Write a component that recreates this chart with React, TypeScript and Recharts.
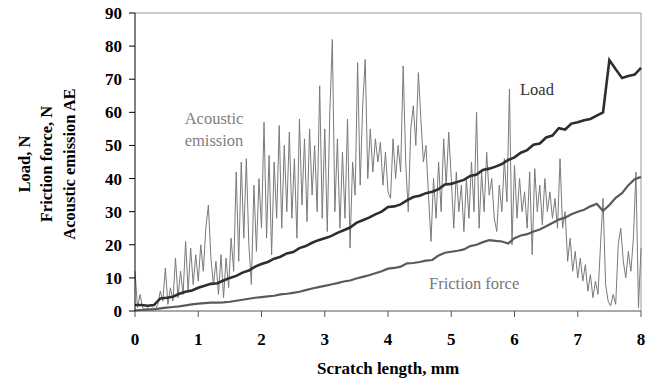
import { LineChart, Line, XAxis, YAxis, ReferenceLine } from "recharts";

// scratch length (mm) grid for load / friction force, every 0.1 mm
const loadValues = [
  1.8, 1.8, 1.6, 1.8, 3.8, 4.0, 4.3, 5.2, 5.8, 6.2,
  7.0, 7.6, 8.2, 8.4, 9.2, 10.0, 10.6, 11.6, 12.2, 13.4,
  14.2, 14.8, 15.8, 16.4, 17.4, 17.8, 19.0, 19.6, 20.6, 21.4,
  22.0, 22.6, 23.6, 24.4, 25.2, 26.6, 27.4, 28.2, 29.2, 30.0,
  31.4, 31.6, 32.2, 33.4, 34.4, 34.8, 35.6, 36.0, 36.8, 38.2,
  38.4, 39.0, 39.6, 40.8, 41.2, 42.6, 43.0, 43.6, 44.4, 45.6,
  46.4, 47.8, 48.6, 50.2, 50.6, 52.4, 53.0, 55.2, 54.8, 56.6,
  57.0, 57.6, 58.0, 59.0, 60.0, 75.8, 73.0, 70.4, 71.0, 71.4,
  73.4,
];

const frictionValues = [
  0.2, 0.3, 0.4, 0.5, 0.8, 1.0, 1.2, 1.4, 1.7, 2.0,
  2.2, 2.4, 2.5, 2.5, 2.6, 2.8, 3.1, 3.4, 3.7, 4.0,
  4.2, 4.4, 4.6, 5.0, 5.2, 5.5, 5.8, 6.3, 6.8, 7.2,
  7.6, 8.0, 8.4, 8.9, 9.2, 9.8, 10.3, 10.8, 11.4, 12.0,
  12.8, 13.0, 13.4, 14.4, 14.5, 14.8, 15.2, 15.4, 16.8, 17.6,
  17.9, 18.2, 18.6, 19.6, 20.0, 20.8, 21.4, 21.2, 21.0, 20.4,
  22.0, 22.8, 23.2, 24.0, 24.6, 25.6, 26.6, 27.6, 28.2, 29.2,
  30.0, 30.6, 31.6, 32.4, 30.2, 32.0, 34.2, 35.6, 38.0, 39.8,
  40.5,
];

// acoustic emission, every 0.04 mm
const aeValues = [
  12, 1, 5, 1, 0.5, 1, 0.5, 1, 0.5, 2,
  6, 3, 13, 2, 7, 3, 16, 4, 12, 5,
  21, 6, 19, 8, 17, 9, 20, 12, 25, 32,
  16, 8, 15, 5, 17, 4, 16, 7, 22, 12,
  42, 15, 45, 22, 46, 20, 8, 38, 18, 40,
  25, 57, 22, 47, 17, 45, 28, 56, 25, 50,
  30, 54, 28, 46, 22, 58, 32, 52, 27, 55,
  35, 50, 30, 68, 28, 55, 24, 60, 82, 30,
  52, 25, 48, 28, 58, 19, 45, 35, 75, 38,
  62, 76, 40, 55, 42, 52, 45, 51, 38, 48,
  36, 34, 52, 40, 50, 42, 74, 45, 30, 55,
  62, 50, 72, 58, 45, 50, 35, 21, 40, 28,
  45, 30, 52, 38, 54, 40, 25, 42, 30, 38,
  24, 40, 28, 45, 30, 60, 25, 42, 30, 48,
  35, 40, 28, 24, 38, 30, 46, 33, 67, 20,
  44, 28, 40, 30, 36, 25, 42, 17, 43, 30,
  38, 26, 40, 30, 36, 28, 34, 25, 46, 25,
  30, 15, 22, 12, 18, 10, 16, 9, 14, 6,
  11, 4, 9, 5, 20, 34, 8, 3, 1.5, 5,
  2, 20, 25, 15, 10, 18, 12, 22, 42, 1,
  19,
];

const xTicks = [0, 1, 2, 3, 4, 5, 6, 7, 8];
const yTicks = [0, 10, 20, 30, 40, 50, 60, 70, 80, 90];

const loadData = loadValues.map((y, i) => ({ x: i / 10, y }));
const frictionData = frictionValues.map((y, i) => ({ x: i / 10, y }));
const aeData = aeValues.map((y, i) => ({ x: i * 0.04, y }));

const serif = "'Liberation Serif', 'Times New Roman', serif";

export default function App() {
  return (
    <div style={{ position: "absolute", left: 0, top: 0, width: 658, height: 384, background: "#fff" }}>
      <LineChart width={658} height={384} margin={{ top: 13, right: 17, bottom: 0, left: 0 }}>
        <XAxis
          type="number"
          dataKey="x"
          domain={[0, 8]}
          ticks={xTicks}
          height={73}
          tickSize={6}
          tickMargin={16}
          stroke="#555"
          tick={{ fill: "#000", fontFamily: serif, fontWeight: "bold", fontSize: 17 }}
          allowDuplicatedCategory={false}
        />
        <YAxis
          type="number"
          domain={[0, 90]}
          ticks={yTicks}
          width={135}
          tickSize={6}
          tickMargin={7}
          stroke="#000"
          tick={{ fill: "#000", fontFamily: serif, fontWeight: "bold", fontSize: 17 }}
        />
        <ReferenceLine y={90} stroke="#9a9a9a" strokeWidth={1} />
        <ReferenceLine x={8} stroke="#9a9a9a" strokeWidth={1} />
        <Line data={aeData} dataKey="y" stroke="#7a7a7a" strokeWidth={1} dot={false} isAnimationActive={false} />
        <Line data={frictionData} dataKey="y" stroke="#5a5a5a" strokeWidth={2.2} dot={false} isAnimationActive={false} />
        <Line data={loadData} dataKey="y" stroke="#2e2e2e" strokeWidth={2.6} dot={false} isAnimationActive={false} />
      </LineChart>
      <svg width={658} height={384} style={{ position: "absolute", left: 0, top: 0, pointerEvents: "none" }}>
        <g fontFamily={serif} fontWeight="bold" fontSize={16.5} fill="#000" textAnchor="middle">
          <text transform="translate(30,164) rotate(-90)">Load, N</text>
          <text transform="translate(52,164) rotate(-90)">Friction force, N</text>
          <text transform="translate(75,164) rotate(-90)">Acoustic emission AE</text>
          <text x={388} y={374} fontSize={17}>Scratch length, mm</text>
        </g>
        <g fontFamily={serif} fontSize={16.5}>
          <text x={214} y={124} textAnchor="middle" fill="#808080">Acoustic</text>
          <text x={214} y={146} textAnchor="middle" fill="#808080">emission</text>
          <text x={520} y={95} fill="#333">Load</text>
          <text x={429} y={289} fill="#777">Friction force</text>
        </g>
      </svg>
    </div>
  );
}
